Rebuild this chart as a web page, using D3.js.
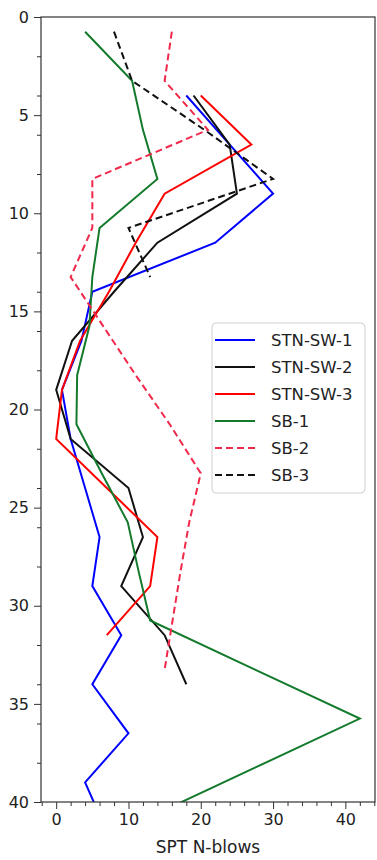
<html>
<head>
<meta charset="utf-8">
<style>
  body { margin: 0; background: #fff; }
  svg { display: block; }
  text { font-family: "DejaVu Sans", sans-serif; }
</style>
</head>
<body>
<svg id="chart"></svg>
<script src="https://d3js.org/d3.v7.min.js"></script>
<script>
// depths (m) for the STN-SW boreholes and the SB boreholes
var swDepth = [4, 6.5, 9, 11.5, 14, 16.5, 19, 21.5, 24, 26.5, 29, 31.5, 34, 36.5, 39, 41.5];
var sbDepth = [0.75, 3.25, 5.75, 8.25, 10.75, 13.25, 15.75, 18.25, 20.75, 23.25, 25.75, 28.25, 30.75, 33.25, 35.75, 38.25, 40.75];

// SPT N-blows per borehole
var stnSw1 = [18, 24, 30, 22, 5, 3.5, 0.8, 2, 4, 6, 5, 9, 5, 10, 4, 7];
var stnSw2 = [19, 24, 25, 14, 8, 2.2, 0, 2, 10, 12, 9, 15, 18];
var stnSw3 = [20, 27, 15, 11, 7.3, 3.3, 0.8, 0, 7, 14, 13, 7];
var sb1 = [4, 10.5, 12, 14, 6, 5, 4.6, 2.9, 2.8, 6.3, 9.9, 11.4, 13, 27.5, 42, 27.5, 13];
var sb2 = [16, 15, 21, 5, 5, 2, 6.5, 11, 15.7, 20, 18.4, 17.2, 16.1, 15];
var sb3 = [8, 10.5, 20.5, 30, 10, 13];

var xTicks = [0, 10, 20, 30, 40];
var yTicks = [0, 5, 10, 15, 20, 25, 30, 35, 40];

var series = [
  {name: "STN-SW-1", depth: swDepth, n: stnSw1, color: "#0000ff", dash: null},
  {name: "STN-SW-2", depth: swDepth, n: stnSw2, color: "#111111", dash: null},
  {name: "STN-SW-3", depth: swDepth, n: stnSw3, color: "#ff0000", dash: null},
  {name: "SB-1", depth: sbDepth, n: sb1, color: "#137a2c", dash: null},
  {name: "SB-2", depth: sbDepth, n: sb2, color: "#f0284a", dash: "7,4"},
  {name: "SB-3", depth: sbDepth, n: sb3, color: "#111111", dash: "7,4"}
];

var width = 377, height = 860;
// plot box (window.top is reserved, so prefixed names)
var pLeft = 41, pRight = 375, pTop = 17, pBottom = 802;

var svg = d3.select("#chart").attr("width", width).attr("height", height);
svg.append("rect").attr("width", width).attr("height", height).attr("fill", "#fff");

var x = d3.scaleLinear().domain([-2.1, 44.1]).range([pLeft, pRight]);
var y = d3.scaleLinear().domain([0, 40]).range([pTop, pBottom]);

svg.append("clipPath").attr("id", "plotclip")
  .append("rect").attr("x", pLeft).attr("y", pTop)
  .attr("width", pRight - pLeft).attr("height", pBottom - pTop);

// minor ticks every 2, skipping the majors
var xMinor = d3.range(-2, 45, 2).filter(function(v) { return v % 10 != 0; });
var yMinor = d3.range(2, 40, 2).filter(function(v) { return v % 10 != 0; });

function styleAxis(g, withText) {
  g.select(".domain").remove();
  g.selectAll("line").attr("stroke", "#333");
  if (withText) {
    g.selectAll("text").attr("font-size", 16).attr("fill", "#222")
      .attr("font-family", "DejaVu Sans");
  }
}

svg.append("g").attr("transform", "translate(0," + pBottom + ")")
  .call(d3.axisBottom(x).tickValues(xMinor).tickSize(4).tickFormat(""))
  .call(styleAxis, false);
svg.append("g").attr("transform", "translate(" + pLeft + ",0)")
  .call(d3.axisLeft(y).tickValues(yMinor).tickSize(4).tickFormat(""))
  .call(styleAxis, false);

svg.append("g").attr("transform", "translate(0," + pBottom + ")")
  .call(d3.axisBottom(x).tickValues(xTicks).tickSize(7).tickPadding(5))
  .call(styleAxis, true);
svg.append("g").attr("transform", "translate(" + pLeft + ",0)")
  .call(d3.axisLeft(y).tickValues(yTicks).tickSize(7).tickPadding(5))
  .call(styleAxis, true);

var line = d3.line()
  .x(function(d) { return x(d[0]); })
  .y(function(d) { return y(d[1]); });

var plot = svg.append("g").attr("clip-path", "url(#plotclip)");
series.forEach(function(s) {
  var pts = s.n.map(function(v, i) { return [v, s.depth[i]]; });
  plot.append("path")
    .attr("d", line(pts))
    .attr("fill", "none")
    .attr("stroke", s.color)
    .attr("stroke-width", 2)
    .attr("stroke-linejoin", "miter")
    .attr("stroke-dasharray", s.dash);
});

// frame
svg.append("rect")
  .attr("x", pLeft).attr("y", pTop)
  .attr("width", pRight - pLeft).attr("height", pBottom - pTop)
  .attr("fill", "none").attr("stroke", "#333").attr("stroke-width", 1.2);

svg.append("text")
  .attr("x", (pLeft + pRight) / 2).attr("y", 853)
  .attr("text-anchor", "middle")
  .attr("font-size", 17).attr("fill", "#222")
  .text("SPT N-blows");

// legend
var lg = svg.append("g");
lg.append("rect")
  .attr("x", 212).attr("y", 323).attr("width", 153).attr("height", 170)
  .attr("rx", 4).attr("fill", "#fff").attr("fill-opacity", 0.85)
  .attr("stroke", "#d0d0d0");
series.forEach(function(s, i) {
  var yy = 340 + i * 27;
  lg.append("line")
    .attr("x1", 215).attr("x2", 255).attr("y1", yy).attr("y2", yy)
    .attr("stroke", s.color).attr("stroke-width", 2)
    .attr("stroke-dasharray", s.dash);
  lg.append("text")
    .attr("x", 271).attr("y", yy).attr("dy", "0.36em")
    .attr("font-size", 16.5).attr("fill", "#222")
    .text(s.name);
});
</script>
</body>
</html>
